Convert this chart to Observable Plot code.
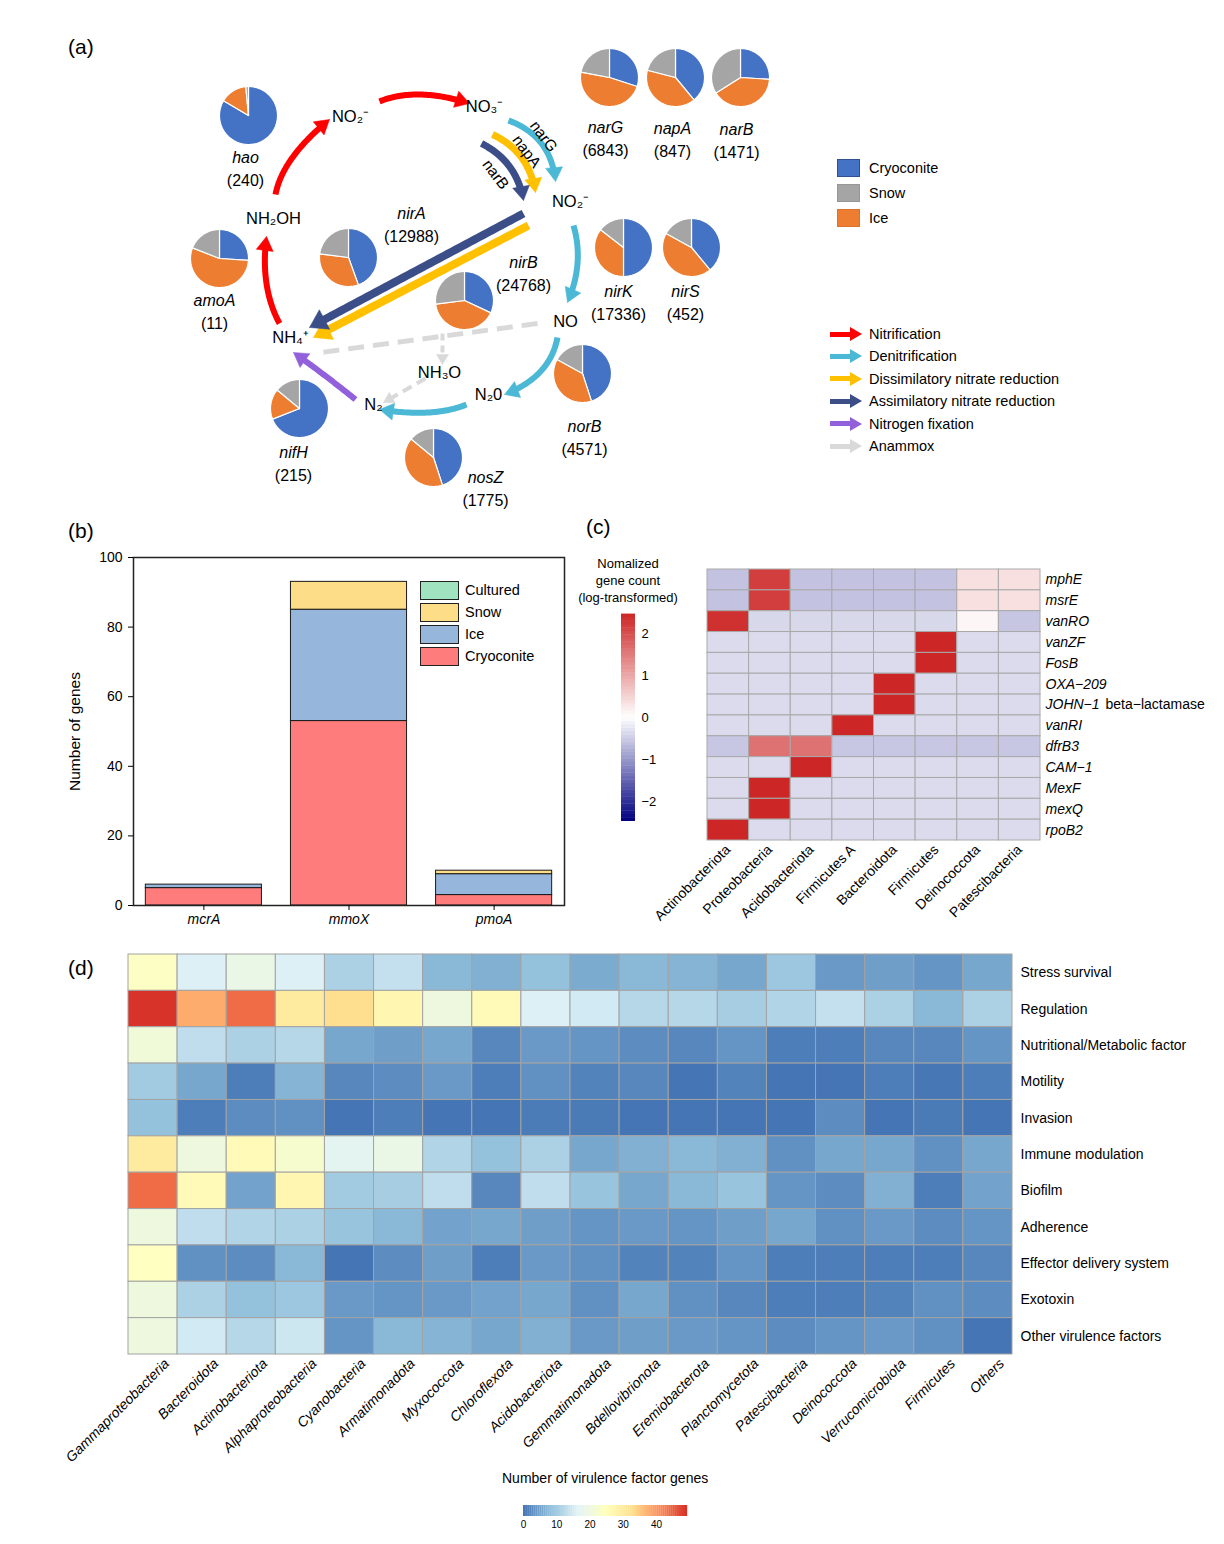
<!DOCTYPE html>
<html><head><meta charset="utf-8">
<script src="https://cdn.jsdelivr.net/npm/d3@7"></script>
<script src="https://cdn.jsdelivr.net/npm/@observablehq/plot@0.6"></script>
<style>
body{margin:0;background:#fff;}
#root{position:relative;width:1224px;height:1544px;font-family:"Liberation Sans",Arial,Helvetica,sans-serif;color:#000;overflow:hidden;}
.abs{position:absolute;white-space:nowrap;}
.abs svg{display:block;}
</style></head><body><div id="root"></div>
<script>
// ---------------- DATA ----------------
// (a) nitrogen-cycle genes: counts and habitat shares (clockwise from 12 o'clock: Cryoconite, Ice, Snow)
const genes      = ["hao","amoA","nirA","nirB","nifH","nosZ","norB","narG","napA","narB","nirK","nirS"];
const geneCounts = [240, 11, 12988, 24768, 215, 1775, 4571, 6843, 847, 1471, 17336, 452];
const habitats   = ["Cryoconite","Ice","Snow"];
const cryoShare  = [0.835,0.26,0.445,0.32,0.69,0.45,0.45,0.30,0.39,0.26,0.50,0.39];
const iceShare   = [0.150,0.55,0.325,0.41,0.17,0.41,0.38,0.48,0.40,0.40,0.355,0.44];
const snowShare  = [0.015,0.19,0.23,0.27,0.14,0.14,0.17,0.22,0.21,0.34,0.145,0.17];
const habitatColors = ["#4472c4","#ed7d31","#a5a5a5"];
const legendHabitats = ["Cryoconite","Snow","Ice"];
const pathways = ["Nitrification","Denitrification","Dissimilatory nitrate reduction","Assimilatory nitrate reduction","Nitrogen fixation","Anammox"];
const pathwayColors = ["#ff0000","#4bb8d6","#ffc000","#3b4e87","#9360dc","#d9d9d9"];
const compounds = ["NO₂⁻","NO₃⁻","NO₂⁻","NO","N₂0","N₂","NH₃O","NH₄⁺","NH₂OH"];
const arrowGenes = ["narG","napA","narB"];

// (b) methane genes
const methGenes = ["mcrA","mmoX","pmoA"];
const methSources = ["Cultured","Snow","Ice","Cryoconite"];
const methColors  = ["#a0e3c0","#fddd87","#96b7db","#fe7c7c"];
const methCryoconite = [5, 53, 3];
const methIce        = [1, 32, 6];
const methSnow       = [0, 8, 1];
const methCultured   = [0, 0, 0];

// (c) ARG heatmap (row-scaled, log-transformed)
const argTaxa  = ["Actinobacteriota","Proteobacteria","Acidobacteriota","Firmicutes A","Bacteroidota","Firmicutes","Deinococcota","Patescibacteria"];
const argGenes = ["mphE","msrE","vanRO","vanZF","FosB","OXA−209","JOHN−1 beta−lactamase","vanRI","dfrB3","CAM−1","MexF","mexQ","rpoB2"];
const arg_mphE  = [-0.58, 2.20,-0.58,-0.58,-0.58,-0.58, 0.35, 0.35];
const arg_msrE  = [-0.58, 2.20,-0.58,-0.58,-0.58,-0.58, 0.35, 0.35];
const arg_vanRO = [ 2.35,-0.38,-0.38,-0.38,-0.38,-0.38, 0.10,-0.55];
const arg_vanZF = [-0.35,-0.35,-0.35,-0.35,-0.35, 2.47,-0.35,-0.35];
const arg_FosB  = [-0.35,-0.35,-0.35,-0.35,-0.35, 2.47,-0.35,-0.35];
const arg_OXA   = [-0.35,-0.35,-0.35,-0.35, 2.47,-0.35,-0.35,-0.35];
const arg_JOHN  = [-0.35,-0.35,-0.35,-0.35, 2.47,-0.35,-0.35,-0.35];
const arg_vanRI = [-0.35,-0.35,-0.35, 2.47,-0.35,-0.35,-0.35,-0.35];
const arg_dfrB3 = [-0.54, 1.62, 1.62,-0.54,-0.54,-0.54,-0.54,-0.54];
const arg_CAM   = [-0.35,-0.35, 2.47,-0.35,-0.35,-0.35,-0.35,-0.35];
const arg_MexF  = [-0.35, 2.47,-0.35,-0.35,-0.35,-0.35,-0.35,-0.35];
const arg_mexQ  = [-0.35, 2.47,-0.35,-0.35,-0.35,-0.35,-0.35,-0.35];
const arg_rpoB2 = [ 2.47,-0.35,-0.35,-0.35,-0.35,-0.35,-0.35,-0.35];
const argRows = [arg_mphE,arg_msrE,arg_vanRO,arg_vanZF,arg_FosB,arg_OXA,arg_JOHN,arg_vanRI,arg_dfrB3,arg_CAM,arg_MexF,arg_mexQ,arg_rpoB2];
const argTicks = [-2,-1,0,1,2];

// (d) virulence factor heatmap
const vfTaxa = ["Gammaproteobacteria","Bacteroidota","Actinobacteriota","Alphaproteobacteria","Cyanobacteria","Armatimonadota","Myxococcota","Chloroflexota","Acidobacteriota","Gemmatimonadota","Bdellovibrionota","Eremiobacterota","Planctomycetota","Patescibacteria","Deinococcota","Verrucomicrobiota","Firmicutes","Others"];
const vfCategories = ["Stress survival","Regulation","Nutritional/Metabolic factor","Motility","Invasion","Immune modulation","Biofilm","Adherence","Effector delivery system","Exotoxin","Other virulence factors"];
const vfStress    = [24,16,19,16,11,13.5,7.5,6.5,8.5,6,7.5,7,5.5,9.5,4,4.5,3.5,5.5];
const vfRegulation= [49,38,44,30,33,27,20,26,16,15,12,12,10.5,11.5,13.5,11,7.5,11];
const vfNutrition = [21,13,11,12,5.5,4.5,5.5,2,4,3.5,2.5,2,3.5,1,1,2,2,3.5];
const vfMotility  = [10,5.5,1,7,2,2.5,4,1,3,1.5,2,0,1.5,0,0,1,0.2,1];
const vfInvasion  = [8.5,1,2.5,3,0,1,0,0,0.8,0.7,0,0,0,0,2.5,0,0.7,0];
const vfImmune    = [30,20,26,22.5,17.5,19,11.5,8.5,11,5.5,6.5,7.5,6.5,3,5.5,5.5,3,5.5];
const vfBiofilm   = [44,26,5,27,10,10.5,13,2,13,9,5.5,7.5,9,3.5,2.5,6.5,1,5];
const vfAdherence = [20,13,11.5,11,9,7.5,5,5.5,4.5,3.5,4,3.5,4.5,5.5,3,4,2.5,3.5];
const vfEffector  = [24.5,3,2.5,7.5,0,2.5,4.5,1,4,3,1.5,1.5,3.5,1,1,1,1,2];
const vfExotoxin  = [20,11,8.5,9.5,4,3.5,4,5,5.5,3,5.5,3,2,1,1,1.5,3,2.5];
const vfOther     = [20,15,12,14.5,3.5,7.5,7,5.5,6.5,4,4.5,4,3.5,2.5,3.5,4,3,0];
const vfRows = [vfStress,vfRegulation,vfNutrition,vfMotility,vfInvasion,vfImmune,vfBiofilm,vfAdherence,vfEffector,vfExotoxin,vfOther];
const vfTicks = [0,10,20,30,40];
const vfMax = 49.3;

// ---------------- LAYOUT (positions / sizes / styles) ----------------
const FONT = "Liberation Sans, Arial, Helvetica, sans-serif";
const pieR = 29;
const pieCenters = [[248,115],[219,258],[348,257],[464,300],[299,408],[433,457],[582,373],[609,77],[675,77],[740,77],[623,247],[691,247]];
const geneLabelPos = [[245,157],[214,300],[411,213],[523,262],[293,452],[485,477],[584,426],[605,127],[672,128],[736,129],[618,291],[685,291]];
const compoundPos = [[350,116],[484,106],[570,201],[565,321],[488,394],[373,404],[439,372],[290,337],[273,218]];
const arrowGenePos = [[543,136],[526,151],[495,174]];
const arrowLayout = [
 {p:0, from:[279,323], via:[266,283], to:[266,236], w:6, hw:8.5, hl:14},
 {p:0, from:[275,194], via:[292,157], to:[329,119], w:6, hw:8.5, hl:14},
 {p:0, from:[379,101], via:[420,94], to:[469,103], w:6, hw:8.5, hl:14},
 {p:1, from:[508,120], via:[541,143], to:[555,181], w:6, hw:8.5, hl:14},
 {p:1, from:[573,225], via:[577,263], to:[567,302], w:6, hw:8.5, hl:14},
 {p:1, from:[557,337], via:[540,371], to:[504,394], w:6, hw:8.5, hl:14},
 {p:1, from:[466,404], via:[428,412], to:[379,409], w:6, hw:8.5, hl:14},
 {p:2, from:[492,134], via:[521,157], to:[535,192], w:7, hw:8.5, hl:14},
 {p:2, from:[528,225], to:[313,337], w:8, hw:11, hl:17},
 {p:3, from:[481,143], via:[509,166], to:[523,200], w:7, hw:8.5, hl:14},
 {p:3, from:[523,213], to:[309,327], w:8, hw:11, hl:17},
 {p:4, from:[355,399], via:[323,374], to:[293,352], w:6, hw:8.5, hl:14},
 {p:5, from:[537,323], to:[313,353], w:5, dash:"16,9"},
 {p:5, from:[442,333], to:[442,364], w:4, hw:6, hl:10, dash:"7,5"},
 {p:5, from:[425,378], to:[383,402], w:4, hw:6, hl:10, dash:"10,6"}
];

const root = document.getElementById("root");
function place(el, left, top){ const d=document.createElement("div"); d.className="abs"; d.style.left=left+"px"; d.style.top=top+"px"; d.appendChild(el); root.appendChild(d); return d; }
function html(s, left, top, css){ const d=document.createElement("div"); d.className="abs"; d.style.left=left+"px"; d.style.top=top+"px"; if(css) d.style.cssText+=css; d.innerHTML=s; root.appendChild(d); return d; }
const svgStyle = {fontFamily: FONT, background: "transparent", overflow: "visible", color: "#000"};
const minusFmt = d => d < 0 ? "−" + Math.abs(d) : String(d);

// ---------------- (a) ----------------
function arrowGeom(a, id){
  const [x0,y0]=a.from, [x2,y2]=a.to;
  let cx=(x0+x2)/2, cy=(y0+y2)/2;
  if(a.via){ cx=2*a.via[0]-(x0+x2)/2; cy=2*a.via[1]-(y0+y2)/2; }
  let dx=x2-cx, dy=y2-cy; const L=Math.hypot(dx,dy); dx/=L; dy/=L;
  const hl=a.hl||0, hw=a.hw||0;
  const stop = hl*0.55;
  const line=[];
  for(let i=0;i<=48;i++){ const t=i/48;
    const x=(1-t)*(1-t)*x0+2*t*(1-t)*cx+t*t*x2, y=(1-t)*(1-t)*y0+2*t*(1-t)*cy+t*t*y2;
    if(i===0 || Math.hypot(x2-x,y2-y)>stop) line.push({id,x,y}); }
  if(hl) line.push({id,x:x2-dx*stop,y:y2-dy*stop});
  const head = hl ? [
    {id,x:x2,y:y2},
    {id,x:x2-dx*hl-dy*hw,y:y2-dy*hl+dx*hw},
    {id,x:x2-dx*hl+dy*hw,y:y2-dy*hl-dx*hw},
    {id,x:x2,y:y2}] : [];
  return {line, head};
}
function wedges(){
  const out=[];
  genes.forEach((g,gi)=>{
    const [cx,cy]=pieCenters[gi];
    const raw=[cryoShare[gi],iceShare[gi],snowShare[gi]]; const tot=d3.sum(raw);
    let a0=0;
    raw.forEach((s,hi)=>{
      const a1=a0+s/tot*2*Math.PI; const id=g+"-"+hi, h=habitats[hi];
      out.push({id,h,x:cx,y:cy});
      const n=Math.max(2,Math.ceil((a1-a0)/0.03));
      for(let k=0;k<=n;k++){ const a=a0+(a1-a0)*k/n; out.push({id,h,x:cx+pieR*Math.sin(a),y:cy-pieR*Math.cos(a)}); }
      out.push({id,h,x:cx,y:cy});
      a0=a1;
    });
  });
  return out;
}
const arrowMarks=[];
arrowLayout.forEach((a,i)=>{
  const g=arrowGeom(a,"a"+i), col=pathwayColors[a.p];
  arrowMarks.push(Plot.line(g.line,{x:"x",y:"y",stroke:col,strokeWidth:a.w,strokeLinecap:"butt",strokeLinejoin:"round",strokeDasharray:a.dash||null}));
  if(g.head.length) arrowMarks.push(Plot.line(g.head,{x:"x",y:"y",fill:col,stroke:col,strokeWidth:0.5}));
});
const plotA = Plot.plot({
  width:1224, height:520, margin:0,
  x:{domain:[0,1224], range:[0,1224], axis:null},
  y:{domain:[0,520], range:[0,520], axis:null},
  color:{domain:habitats, range:habitatColors},
  style: svgStyle,
  marks:[
    ...arrowMarks,
    Plot.line(wedges(),{x:"x",y:"y",z:"id",fill:"h",stroke:"white",strokeWidth:1.2}),
    Plot.text(compounds,{x:(d,i)=>compoundPos[i][0],y:(d,i)=>compoundPos[i][1],text:d=>d,fontSize:16.5}),
    Plot.text(genes,{x:(d,i)=>geneLabelPos[i][0],y:(d,i)=>geneLabelPos[i][1],text:d=>d,fontSize:16,fontStyle:"italic"}),
    Plot.text(genes,{x:(d,i)=>geneLabelPos[i][0],y:(d,i)=>geneLabelPos[i][1]+23,text:(d,i)=>"("+geneCounts[i]+")",fontSize:16}),
    Plot.text(arrowGenes,{x:(d,i)=>arrowGenePos[i][0],y:(d,i)=>arrowGenePos[i][1],text:d=>d,rotate:53,fontSize:15.5})
  ]
});
place(plotA,0,0);
html("(a)",68,36,"font-size:21px;line-height:21px;");
// habitat legend
legendHabitats.forEach((h,i)=>{
  const c=habitatColors[habitats.indexOf(h)];
  const border = i===0 ? "#2f528f" : d3.color(c).darker(0.25).formatHex();
  html("",837,159+25*i,`width:21px;height:16px;background:${c};border:1px solid ${border};`);
  html(h,869,159+25*i,"font-size:14.5px;line-height:18px;");
});
// pathway legend
pathways.forEach((p,i)=>{
  const c=pathwayColors[i], y=334+22.4*i;
  html("",830,y-2.5,`width:21px;height:5px;background:${c};`);
  html("",850,y-7,`width:0;height:0;border-top:7px solid transparent;border-bottom:7px solid transparent;border-left:12px solid ${c};`);
  html(p,869,y-9,"font-size:14.5px;line-height:18px;");
});

// ---------------- (b) ----------------
const methRows=[];
methGenes.forEach((g,i)=>{
  [["Cryoconite",methCryoconite],["Ice",methIce],["Snow",methSnow],["Cultured",methCultured]].forEach(([s,arr])=>{ if(arr[i]>0) methRows.push({gene:g,source:s,value:arr[i]}); });
});
const plotB = Plot.plot({
  width:515, height:400, marginLeft:73, marginRight:11, marginTop:12, marginBottom:40,
  x:{domain:methGenes, paddingInner:0.2, paddingOuter:0.085, round:false},
  y:{domain:[0,100]},
  color:{domain:methSources, range:methColors},
  style: svgStyle,
  marks:[
    Plot.barY(methRows,{x:"gene",y:"value",fill:"source",stroke:"#1a1a1a",strokeWidth:1,inset:0}),
    Plot.frame({stroke:"#222",strokeWidth:1.5}),
    Plot.axisY({ticks:[0,20,40,60,80,100],tickSize:5,tickPadding:6,fontSize:14,label:null}),
    Plot.axisX({tickSize:5,tickPadding:4,fontSize:14,fontStyle:"italic",label:null}),
    Plot.text(["Number of genes"],{frameAnchor:"left",textAnchor:"middle",rotate:-90,dx:-58,fontSize:15.5})
  ]
});
place(plotB,60,545);
html("(b)",68,520,"font-size:21px;line-height:21px;");
methSources.forEach((s,i)=>{
  html("",420,581+22*i,`width:37px;height:17px;background:${methColors[i]};border:1px solid #222;`);
  html(s,465,581+22*i,"font-size:14.5px;line-height:19px;");
});

// ---------------- (c) ----------------
const argCells = argGenes.flatMap((g,i)=>argTaxa.map((t,j)=>({gene:g,taxon:t,value:argRows[i][j]})));
const argColor = {type:"linear", domain:[-2.47,0,2.47], range:["#000080","#ffffff","#cd2626"], interpolate:"rgb"};
const plotC = Plot.plot({
  width:644, height:385, marginLeft:127, marginRight:184, marginTop:19, marginBottom:95,
  x:{domain:argTaxa, padding:0, round:false, axis:null},
  y:{domain:argGenes, padding:0, round:false, axis:null},
  color: argColor,
  style: svgStyle,
  marks:[
    Plot.cell(argCells,{x:"taxon",y:"gene",fill:"value",stroke:"#a9a9a9",strokeWidth:1,inset:0}),
    Plot.text(argGenes,{y:d=>d,text:d=>d.split(" ")[0],frameAnchor:"right",textAnchor:"start",dx:5,fontSize:14,fontStyle:"italic"}),
    Plot.text(argGenes.filter(d=>d.includes(" ")),{y:d=>d,text:d=>d.split(" ").slice(1).join(" "),frameAnchor:"right",textAnchor:"start",dx:65,fontSize:14}),
    Plot.text(argTaxa,{x:d=>d,frameAnchor:"bottom",rotate:-45,textAnchor:"end",lineAnchor:"top",dx:-4,dy:3,fontSize:14})
  ]
});
place(plotC,580,550);
html("(c)",586,516,"font-size:21px;line-height:21px;");
html("Nomalized<br>gene count<br>(log-transformed)",560,555,"width:136px;text-align:center;font-size:13px;line-height:17px;");
const argRamp = d3.range(0,60).map(i=>-2.47+i*4.94/60);
const cbC = Plot.plot({
  width:60, height:220, marginLeft:9, marginRight:37, marginTop:6, marginBottom:7,
  x:{domain:[0,1], axis:null},
  y:{domain:[-2.47,2.47]},
  color: argColor,
  style: svgStyle,
  marks:[
    Plot.rect(argRamp,{x1:0,x2:1,y1:d=>d,y2:d=>d+4.94/60+0.01,fill:d=>d+2.47/60}),
    Plot.axisY({anchor:"right",ticks:argTicks,tickFormat:minusFmt,tickSize:0,tickPadding:6,fontSize:13,label:null})
  ]
});
place(cbC,612,608);

// ---------------- (d) ----------------
const vfCells = vfCategories.flatMap((c,i)=>vfTaxa.map((t,j)=>({cat:c,taxon:t,value:vfRows[i][j]})));
const vfPalette = ["#4575b4","#91bfdb","#e0f3f8","#ffffbf","#fee090","#fc8d59","#d73027"];
const vfColor = {type:"linear", domain:vfPalette.map((c,i)=>i*vfMax/6), range:vfPalette, interpolate:"rgb"};
const plotD = Plot.plot({
  width:1224, height:520, marginLeft:128, marginRight:212, marginTop:14, marginBottom:106,
  x:{domain:vfTaxa, padding:0, round:false, axis:null},
  y:{domain:vfCategories, padding:0, round:false, axis:null},
  color: vfColor,
  style: svgStyle,
  marks:[
    Plot.cell(vfCells,{x:"taxon",y:"cat",fill:"value",stroke:"#a3a3a3",strokeWidth:1,inset:0}),
    Plot.text(vfCategories,{y:d=>d,frameAnchor:"right",textAnchor:"start",dx:8,fontSize:14}),
    Plot.text(vfTaxa,{x:d=>d,frameAnchor:"bottom",rotate:-45,textAnchor:"end",lineAnchor:"top",dx:10,dy:3,fontSize:14,fontStyle:"italic"})
  ]
});
place(plotD,0,940);
html("(d)",68,957,"font-size:21px;line-height:21px;");
html("Number of virulence factor genes",502,1470,"font-size:14px;line-height:16px;");
const vfRamp = d3.range(0,80).map(i=>i*vfMax/80);
const cbD = Plot.plot({
  width:185, height:35, marginLeft:10, marginRight:11, marginTop:5, marginBottom:19,
  x:{domain:[0,vfMax]},
  y:{domain:[0,1], axis:null},
  color: vfColor,
  style: svgStyle,
  marks:[
    Plot.rect(vfRamp,{x1:d=>d,x2:d=>d+vfMax/80+0.05,y1:0,y2:1,fill:d=>d+vfMax/160}),
    Plot.axisX({ticks:vfTicks,tickSize:0,tickPadding:4,fontSize:10,label:null})
  ]
});
place(cbD,513,1500);
</script></body></html>
